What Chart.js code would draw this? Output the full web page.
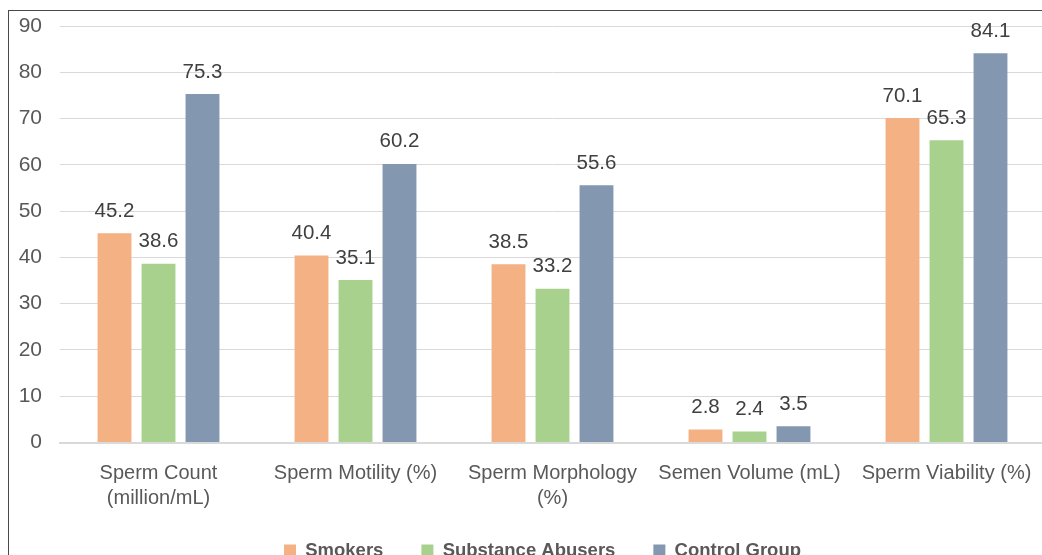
<!DOCTYPE html>
<html>
<head>
<meta charset="utf-8">
<script src="https://cdn.jsdelivr.net/npm/chart.js@4/dist/chart.umd.min.js"></script>
<style>
  html, body { margin: 0; padding: 0; background: #fff; }
  body { width: 1042px; height: 555px; overflow: hidden; position: relative; }
  #frame { position: absolute; left: 8px; top: 10px; width: 1200px; height: 700px;
           border-left: 1px solid #4a4a4a; border-top: 1px solid #4a4a4a; }
  #chart { position: absolute; left: 10px; top: 11px; }
</style>
</head>
<body>
<div id="frame"></div>
<canvas id="chart" width="1050" height="570"></canvas>
<script>
// Semen parameters by group
const categories = [
  ['Sperm Count', '(million/mL)'],
  'Sperm Motility (%)',
  ['Sperm Morphology', '(%)'],
  'Semen Volume (mL)',
  'Sperm Viability (%)'
];
const smokers = [45.2, 40.4, 38.5, 2.8, 70.1];
const substanceAbusers = [38.6, 35.1, 33.2, 2.4, 65.3];
const controlGroup = [75.3, 60.2, 55.6, 3.5, 84.1];
const yTicks = [0, 10, 20, 30, 40, 50, 60, 70, 80, 90];

const FONT = '"Liberation Sans", Arial, sans-serif';

// Writes each bar's value just above it
const valueLabels = {
  id: 'valueLabels',
  afterDatasetsDraw(chart) {
    const ctx = chart.ctx;
    ctx.save();
    ctx.font = '20.5px ' + FONT;
    ctx.fillStyle = '#404040';
    ctx.textAlign = 'center';
    ctx.textBaseline = 'alphabetic';
    chart.data.datasets.forEach((ds, i) => {
      const meta = chart.getDatasetMeta(i);
      meta.data.forEach((bar, j) => {
        ctx.fillText(ds.data[j].toFixed(1), bar.x, bar.y - 16.5);
      });
    });
    ctx.restore();
  }
};

// Centres the legend under the whole frame and pulls it up under the axis labels
const legendShift = {
  id: 'legendShift',
  afterLayout(chart) {
    const lg = chart.legend;
    if (lg) {
      lg.left += 15; lg.right += 15;
      lg.top -= 11.25; lg.bottom -= 11.25;
    }
  }
};

new Chart(document.getElementById('chart'), {
  type: 'bar',
  data: {
    labels: categories,
    datasets: [
      { label: 'Smokers', data: smokers, backgroundColor: '#F4B183' },
      { label: 'Substance Abusers', data: substanceAbusers, backgroundColor: '#A9D18E' },
      { label: 'Control Group', data: controlGroup, backgroundColor: '#8497B0' }
    ]
  },
  options: {
    responsive: false,
    animation: false,
    devicePixelRatio: 1,
    layout: { padding: { left: 0, right: 15, top: 15, bottom: 0 } },
    datasets: { bar: { categoryPercentage: 0.67, barPercentage: 0.77 } },
    scales: {
      x: {
        grid: { display: false, drawTicks: false },
        border: { color: '#d9d9d9', width: 2 },
        ticks: { color: '#595959', font: { family: FONT, size: 20, lineHeight: 1.22 }, padding: 19, maxRotation: 0, autoSkip: false },
        afterFit(scale) { scale.height = 72; }
      },
      y: {
        min: 0, max: 90,
        afterBuildTicks(scale) { scale.ticks = yTicks.map(v => ({ value: v })); },
        grid: { color: '#d9d9d9', lineWidth: 1, drawTicks: true, tickLength: 18, tickColor: 'rgba(0,0,0,0)' },
        border: { display: false },
        ticks: { color: '#595959', font: { family: FONT, size: 21 }, padding: 0 },
        afterFit(scale) { scale.width = 50; }
      }
    },
    plugins: {
      legend: {
        position: 'bottom',
        labels: {
          boxWidth: 12, boxHeight: 12, padding: 38,
          color: '#595959',
          font: { family: FONT, size: 18.5, weight: 'bold' }
        }
      },
      tooltip: { enabled: false }
    }
  },
  plugins: [valueLabels, legendShift]
});
</script>
</body>
</html>
